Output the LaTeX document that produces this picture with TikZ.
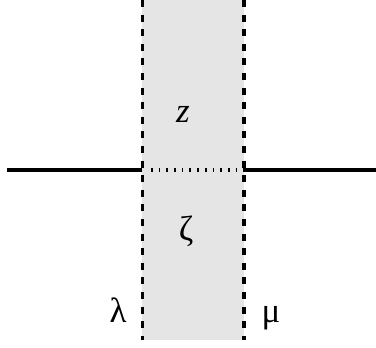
\documentclass[tikz,border=0pt]{standalone}
\usepackage{fontspec}
\newfontfamily\grk{Liberation Serif}
\begin{document}
\begin{tikzpicture}[x=1pt,y=-1pt,
  wall/.style={line width=3.3pt,dash pattern=on 7pt off 7.6pt},
  solid line/.style={line width=4pt},
  dots/.style={line width=3.5pt,dash pattern=on 1.7pt off 6pt},
  lbl/.style={font=\fontsize{35}{40}\selectfont\grk,inner sep=0pt}]
\useasboundingbox (0,0) rectangle (376,348);
\fill[gray!20] (142,0) rectangle (244,340);
\coordinate (tl) at (142.5,0);
\coordinate (bl) at (142.5,340);
\coordinate (tr) at (244,0);
\coordinate (br) at (244,340);
\coordinate (ml) at (142,170);
\coordinate (mr) at (244,170);
\coordinate (le) at (7,170);
\coordinate (re) at (376,170);
\draw[solid line] (le) -- (ml);
\draw[solid line] (mr) -- (re);
\draw[dots] ([xshift=9pt]ml) -- (mr);
\draw[wall] (tl) -- (bl);
\draw[wall] (tr) -- (br);
\node[lbl] (z) at (183,114.5) {\itshape z};
\node[lbl] (zeta) at (186,231) {ζ};
\node[lbl] (lam) at (118,310.5) {λ};
\node[lbl] (mu) at (271,318) {μ};
\end{tikzpicture}
\end{document}
